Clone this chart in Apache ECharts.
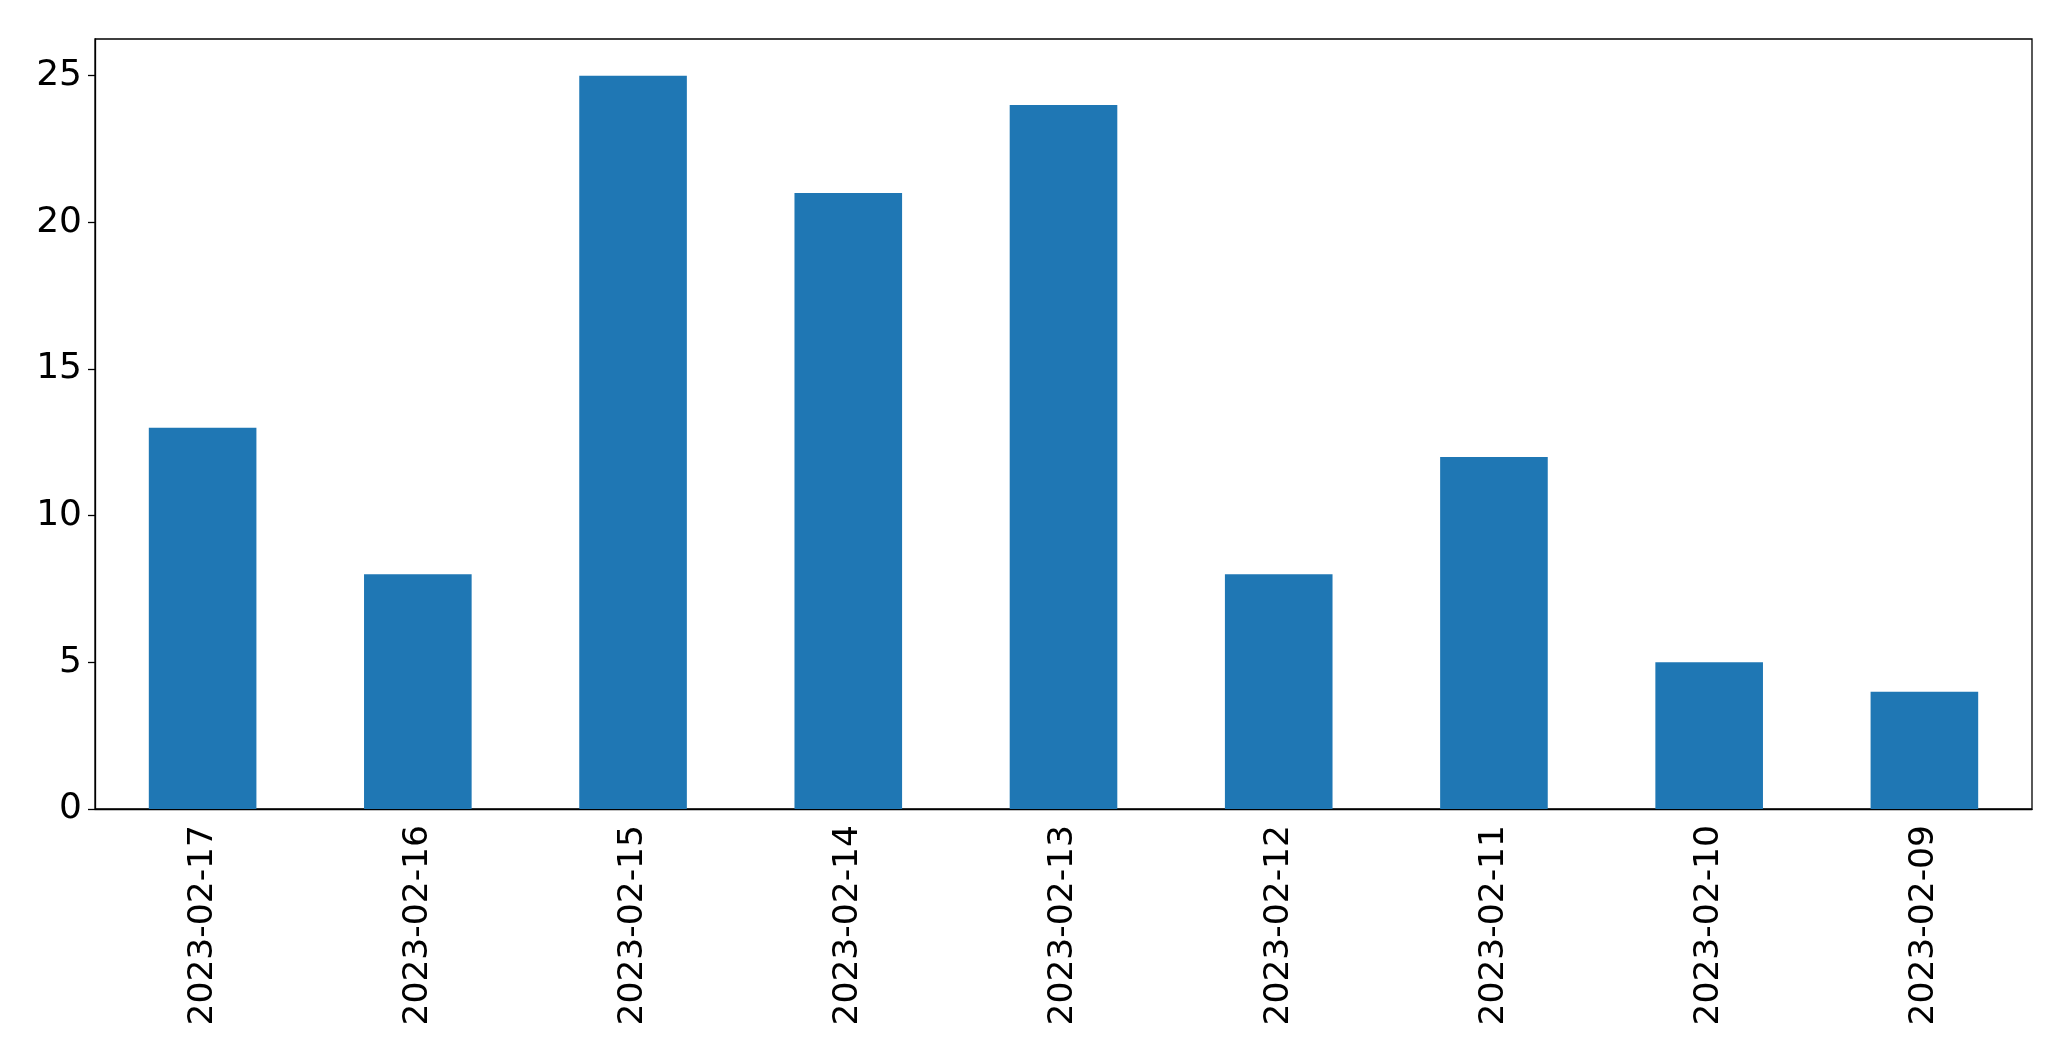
<!DOCTYPE html>
<html>
<head>
<meta charset="utf-8">
<script src="https://cdn.jsdelivr.net/npm/echarts@6/dist/echarts.min.js"></script>
<style>html,body{margin:0;padding:0;background:#fff;}#c{width:2071px;height:1061px;}</style>
</head>
<body>
<div id="c"></div>
<script>
const categories = ['2023-02-17','2023-02-16','2023-02-15','2023-02-14','2023-02-13','2023-02-12','2023-02-11','2023-02-10','2023-02-09'];
const values = [13, 8, 25, 21, 24, 8, 12, 5, 4];
const yTicks = [0, 5, 10, 15, 20, 25];

const chart = echarts.init(document.getElementById('c'), null, {renderer: 'canvas'});
const font = 'DejaVu Sans';
chart.setOption({
  animation: false,
  backgroundColor: '#fff',
  grid: {left: 95, right: 39, top: 39, bottom: 252, show: true, borderColor: '#000', borderWidth: 1.3, containLabel: false},
  xAxis: {
    type: 'category',
    data: categories,
    boundaryGap: true,
    axisLine: {lineStyle: {color: '#000', width: 1.3}},
    axisTick: {alignWithLabel: true, length: 7, lineStyle: {color: '#000', width: 1.3}},
    axisLabel: {rotate: 90, margin: 16, color: '#000', fontFamily: font, fontSize: 34.5, interval: 0}
  },
  yAxis: {
    type: 'value',
    min: 0, max: 26.25, interval: 5,
    splitLine: {show: false},
    axisLine: {show: true, lineStyle: {color: '#000', width: 1.3}},
    axisTick: {show: true, length: 7, lineStyle: {color: '#000', width: 1.3}},
    axisLabel: {
      color: '#000', fontFamily: font, fontSize: 36, margin: 13, showMaxLabel: false,
      formatter: v => yTicks.includes(v) ? String(v) : ''
    }
  },
  series: [{
    type: 'bar',
    data: values,
    barWidth: '50%',
    itemStyle: {color: '#1f77b4'}
  }]
});
</script>
</body>
</html>
